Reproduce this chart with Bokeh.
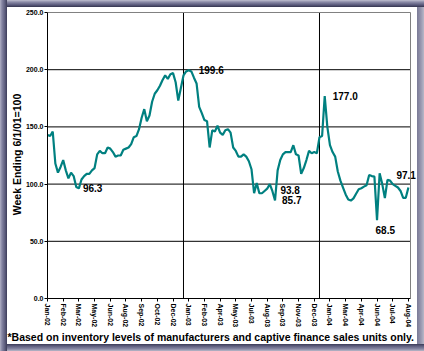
from bokeh.plotting import figure
from bokeh.layouts import column
from bokeh.models import (Range1d, FixedTicker, LabelSet, Title,
                          ColumnDataSource, NumeralTickFormatter)
from bokeh.core.properties import value
from bokeh.embed import file_html
from bokeh.resources import INLINE

# ---------------- data ----------------
tick_labels = ["Jan-02", "Feb-02", "Mar-02", "May-02", "Jun-02", "Aug-02", "Sep-02",
               "Oct-02", "Dec-02", "Jan-03", "Feb-03", "Apr-03", "May-03", "Jul-03",
               "Aug-03", "Sep-03", "Nov-03", "Dec-03", "Jan-04", "Mar-04", "Apr-04",
               "Jun-04", "Jul-04", "Aug-04"]
tick_every = 6  # one label every 6 weeks

index_values = [
    143, 142, 146, 118, 110, 115, 121, 112, 105, 110,
    107, 97.5, 96.3, 104, 107, 109, 109, 112, 114, 126,
    129, 127, 127, 132, 131, 128, 124, 125, 125, 130,
    131, 132, 135, 141, 142, 148, 158, 165.5, 155, 160,
    172, 179, 182, 186, 191, 195, 192, 196, 197, 189,
    173, 184, 195, 198.5, 199.6, 198.5, 193, 188, 167.5, 162,
    156, 155, 132, 147, 146, 151, 145, 143, 147, 148,
    145, 132, 129, 124, 124, 126, 124, 120, 113, 92,
    101, 92, 92, 94, 96, 100, 93.8, 85.7, 112, 121,
    126, 128, 128, 128, 134, 126, 125, 109, 114, 121,
    129, 127, 128, 127, 141, 142, 177.0, 150, 134, 128,
    124, 111, 103, 97, 91, 86.5, 85.6, 87.5, 91.5, 95.5,
    96.4, 97.8, 99, 108, 107, 106.5, 68.5, 109.5, 100, 87.7,
    103.7, 103, 100, 98.5, 97, 94, 88, 88, 97.1,
]
weeks = list(range(len(index_values)))

callout_weeks = [12, 54, 86, 87, 106, 126, 138]
callout_texts = ["96.3", "199.6", "93.8", "85.7", "177.0", "68.5", "97.1"]

y_ticks = [0, 50, 100, 150, 200, 250]
y_grid = [50, 100, 150, 200]
year_lines = [52, 104]
x_end = 138.8    # right edge of the plot area (weeks)
y_top = 250

y_title = "Week Ending 6/1/01=100"
footnote = "*Based on inventory levels of manufacturers and captive finance sales units only."

# ---------------- layout / style ----------------
callout_dx = [4, 10, 8, 7, 8, -1.5, -12]
callout_dy = [0, 0, 1, 0, 0, -10, 12]

FONT = "Liberation Sans"
W, H = 410, 337          # figure inside a 7px bevel (page 424 x 351)
BL, BR, BT, BB = 40, 0, 3, 45
PX_PER_WEEK = 363 / x_end
PX_PER_UNIT = 287 / y_top
frame_w = W - BL - BR
frame_h = H - BT - BB

p = figure(width=W, height=H, output_backend="svg", toolbar_location=None,
           x_range=Range1d(0, frame_w / PX_PER_WEEK),
           y_range=Range1d(0, frame_h / PX_PER_UNIT),
           min_border_left=BL, min_border_right=BR, min_border_top=BT,
           min_border_bottom=BB)
p.margin = (7, 7, 7, 7)
p.background_fill_color = "white"
p.border_fill_color = "white"
p.outline_line_color = None
p.xgrid.visible = False
p.ygrid.visible = False

# grid lines and plot-area border
p.segment(x0=[0] * len(y_grid), x1=[x_end] * len(y_grid), y0=y_grid, y1=y_grid,
          line_color="black", line_width=1)
p.segment(x0=year_lines, x1=year_lines, y0=[0] * len(year_lines),
          y1=[y_top] * len(year_lines), line_color="black", line_width=1)
p.segment(x0=[0, x_end], x1=[x_end, x_end], y0=[y_top, 0], y1=[y_top, y_top],
          line_color="#808080", line_width=1)

p.line(weeks, index_values, line_color="#008080", line_width=2.2)

# y axis
ya = p.yaxis[0]
ya.ticker = FixedTicker(ticks=y_ticks)
ya.bounds = (0, y_top)
ya.formatter = NumeralTickFormatter(format="0.0")
ya.axis_line_color = "black"
ya.major_tick_line_color = "black"
ya.major_tick_out = 3
ya.major_tick_in = 0
ya.minor_tick_line_color = None
ya.major_label_standoff = 1
ya.major_label_text_font = FONT
ya.major_label_text_font_style = "bold"
ya.major_label_text_font_size = "7px"
ya.major_label_text_color = "black"

p.add_layout(Title(text=y_title, align="center", standoff=0,
                   text_font=FONT, text_font_style="bold", text_font_size="10.5px",
                   text_color="black"), "left")

# x axis
xa = p.xaxis[0]
xt = [i * tick_every for i in range(len(tick_labels))]
xa.ticker = FixedTicker(ticks=xt)
xa.bounds = (0, x_end)
xa.major_label_overrides = {t: lab for t, lab in zip(xt, tick_labels)}
xa.major_label_orientation = "vertical"
xa.axis_line_color = "black"
xa.major_tick_line_color = "black"
xa.major_tick_out = 3
xa.major_tick_in = 0
xa.minor_tick_line_color = None
xa.major_label_standoff = 2
xa.major_label_text_font = FONT
xa.major_label_text_font_style = "bold"
xa.major_label_text_font_size = "7px"
xa.major_label_text_color = "black"

# callouts
src = ColumnDataSource(dict(
    x=callout_weeks,
    y=[index_values[w] for w in callout_weeks],
    t=callout_texts, dx=callout_dx, dy=callout_dy))
p.add_layout(LabelSet(x="x", y="y", text="t", source=src, x_offset="dx", y_offset="dy",
                      text_font=value(FONT), text_font_style="bold",
                      text_font_size="10px", text_color="black",
                      text_baseline="middle", text_align="left"))

# footnote
p.add_layout(Title(text=footnote, align="left", offset=-BL, standoff=0,
                   vertical_align="top",
                   text_font=FONT, text_font_style="bold", text_font_size="10.5px",
                   text_color="black"), "below")

# bevelled frame drawn as the wrapper's background
bevel = ", ".join([
    "linear-gradient(to right, #b0b0c4 0px, #8484a2 2px, #5c5c7c 5px, #3c3c58 7px, transparent 7px)",
    "linear-gradient(to bottom, #c0c0d0 0px, #8c8ca8 2px, #58587a 5px, #34344e 7px, transparent 7px)",
    "linear-gradient(to top, #b8b8c8 0px, #8888a4 2px, #5c5c7c 5px, #3c3c58 7px, transparent 7px)",
    "linear-gradient(to left, #b8b8c8 0px, #9898b0 3px, #7a7a96 7px, transparent 7px)",
])
root = column(p, styles={"background-color": "white", "background-image": bevel})

open("out.html", "w").write(file_html(root, INLINE))
